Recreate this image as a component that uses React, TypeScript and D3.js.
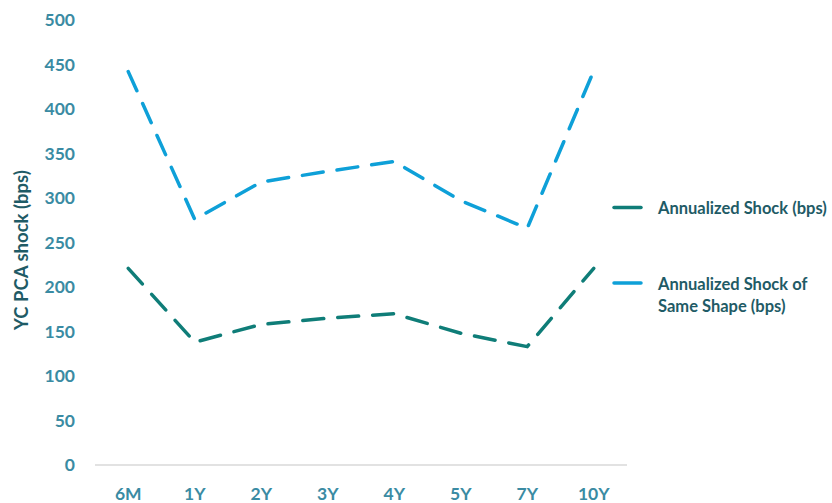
import React from "react";
import * as d3 from "d3";

const categories = ["6M", "1Y", "2Y", "3Y", "4Y", "5Y", "7Y", "10Y"];
const annualizedShock = [221, 138, 158, 165, 170, 148, 133, 221];
const sameShapeShock = [442, 276, 318, 330, 341, 297, 266, 443];
const yTicks = [0, 50, 100, 150, 200, 250, 300, 350, 400, 450, 500];

const W = 832;
const H = 503;
const left = 95;
const right = 627;
const top = 20;
const bottom = 465;

const TEAL = "#0f7d78";
const BLUE = "#0ea0d8";
const TICK = "#3a8ba3";
const TITLE = "#1f5b66";
const FONT = "Lato, 'Open Sans', sans-serif";

export default function App() {
  const x = d3.scaleBand<string>().domain(categories).range([left, right]);
  const y = d3.scaleLinear().domain([0, 500]).range([bottom, top]);
  const cx = (c: string) => (x(c) as number) + x.bandwidth() / 2;
  const line = d3
    .line<number>()
    .x((_, i) => cx(categories[i]))
    .y((d) => y(d));

  return (
    <svg
      width={W}
      height={H}
      style={{ position: "absolute", left: 0, top: 0, background: "#fff" }}
      fontFamily={FONT}
    >
      <line x1={left} x2={right} y1={bottom} y2={bottom} stroke="#d9d9d9" strokeWidth={1.3} />
      {yTicks.map((t) => (
        <text
          key={t}
          x={75}
          y={y(t)}
          dy="0.35em"
          textAnchor="end"
          fontSize={17.5}
          fontWeight={700}
          fill={TICK}
        >
          {t}
        </text>
      ))}
      {categories.map((c) => (
        <text
          key={c}
          x={cx(c)}
          y={494}
          dy="0.35em"
          textAnchor="middle"
          fontSize={17.5}
          fontWeight={700}
          fill={TICK}
        >
          {c}
        </text>
      ))}
      <text
        transform="translate(22,250) rotate(-90)"
        textAnchor="middle"
        dy="0.35em"
        fontSize={18.5}
        fontWeight={700}
        fill={TITLE}
      >
        YC PCA shock (bps)
      </text>
      <path
        d={line(sameShapeShock) || ""}
        fill="none"
        stroke={BLUE}
        strokeWidth={3.5}
        strokeDasharray="21 14"
        strokeLinecap="round"
        strokeLinejoin="round"
      />
      <path
        d={line(annualizedShock) || ""}
        fill="none"
        stroke={TEAL}
        strokeWidth={3.5}
        strokeDasharray="21 14"
        strokeLinecap="round"
        strokeLinejoin="round"
      />
      <line x1={614} x2={641} y1={207.5} y2={207.5} stroke={TEAL} strokeWidth={3.5} strokeLinecap="round" />
      <text x={658} y={208} dy="0.35em" fontSize={16.5} fontWeight={700} fill={TITLE}>
        Annualized Shock (bps)
      </text>
      <line x1={614} x2={641} y1={283} y2={283} stroke={BLUE} strokeWidth={3.5} strokeLinecap="round" />
      <text x={658} y={284} dy="0.35em" fontSize={16.5} fontWeight={700} fill={TITLE}>
        Annualized Shock of
      </text>
      <text x={658} y={306} dy="0.35em" fontSize={16.5} fontWeight={700} fill={TITLE}>
        Same Shape (bps)
      </text>
    </svg>
  );
}
